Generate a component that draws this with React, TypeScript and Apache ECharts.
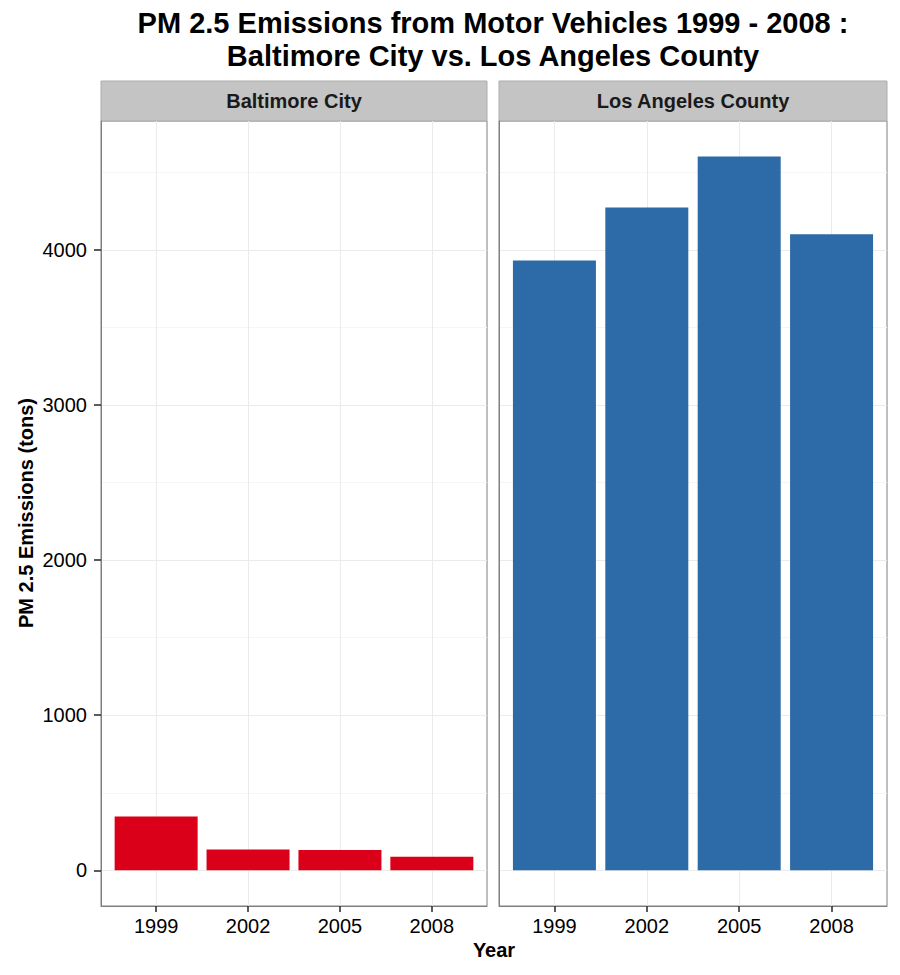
import React, { useEffect, useRef } from 'react';
import * as echarts from 'echarts';

const years = ['1999', '2002', '2005', '2008'];
const baltimore = [346.82, 134.31, 130.43, 88.28];
const losAngeles = [3931.12, 4274.03, 4601.41, 4101.32];
const panels = ['Baltimore City', 'Los Angeles County'];
const yTicks = [0, 1000, 2000, 3000, 4000];
const yMinor = [500, 1500, 2500, 3500, 4500];
const titleLines = ['PM 2.5 Emissions from Motor Vehicles 1999 - 2008 :', 'Baltimore City vs. Los Angeles County'];
const xTitle = 'Year';
const yTitle = 'PM 2.5 Emissions (tons)';

const FONT = '"Liberation Sans", Arial, Helvetica, sans-serif';
const Y_MIN = -230;
const Y_MAX = 4831;
const X_MIN = -0.6;
const X_MAX = 3.6;
const xPos = [0, 1, 2, 3];

const panelBoxes = [
  { left: 101, width: 386 },
  { left: 499, width: 388 },
];
const TOP = 121;
const HEIGHT = 785;
const BORDER = '#7f7f7f';
const TICK = '#333333';

export default function App() {
  const ref = useRef<HTMLDivElement>(null);
  useEffect(() => {
    if (!ref.current) return;
    const chart = echarts.init(ref.current, null, { renderer: 'svg' });

    const grids = panelBoxes.map((p) => ({
      left: p.left,
      top: TOP,
      width: p.width,
      height: HEIGHT,
      show: true,
      borderColor: BORDER,
      borderWidth: 1,
      backgroundColor: 'transparent',
    }));

    const xAxes = panelBoxes.map((_, i) => ({
      type: 'value',
      gridIndex: i,
      position: 'bottom',
      min: X_MIN,
      max: X_MAX,
      axisLine: { show: true, onZero: false, lineStyle: { color: BORDER, width: 1 } },
      axisTick: {
        show: true,
        customValues: xPos,
        length: 6,
        lineStyle: { color: TICK, width: 1.6 },
      },
      axisLabel: {
        show: true,
        customValues: xPos,
        formatter: (v: number) => years[Math.round(v)] ?? '',
        fontFamily: FONT,
        fontSize: 20,
        color: '#000',
        margin: 10,
      },
      splitLine: { show: true, lineStyle: { color: '#ebebeb', width: 1 } },
    }));

    const yMajor = panelBoxes.map((_, i) => ({
      type: 'value',
      gridIndex: i,
      position: 'left',
      min: Y_MIN,
      max: Y_MAX,
      axisLine: { show: true, onZero: false, lineStyle: { color: BORDER, width: 1 } },
      axisTick: {
        show: i === 0,
        customValues: yTicks,
        length: 7,
        lineStyle: { color: TICK, width: 1.6 },
      },
      axisLabel: {
        show: i === 0,
        customValues: yTicks,
        formatter: (v: number) => String(v),
        fontFamily: FONT,
        fontSize: 20,
        color: '#000',
        margin: 14,
      },
      splitLine: { show: true, lineStyle: { color: '#ebebeb', width: 1 } },
    }));

    const yMinorAxes = panelBoxes.map((_, i) => ({
      type: 'value',
      gridIndex: i,
      position: 'right',
      min: Y_MIN,
      max: Y_MAX,
      axisLine: { show: false, onZero: false },
      axisTick: { show: false, customValues: yMinor },
      axisLabel: { show: false, customValues: yMinor },
      splitLine: { show: true, lineStyle: { color: '#f5f5f5', width: 1 } },
    }));

    const graphics: any[] = [];
    titleLines.forEach((t, i) => {
      graphics.push({
        type: 'text',
        x: 493,
        y: 23 + i * 33,
        style: {
          text: t,
          fontFamily: FONT,
          fontSize: 29,
          fontWeight: 'bold',
          fill: '#000',
          textAlign: 'center',
          textVerticalAlign: 'middle',
        },
      });
    });
    panelBoxes.forEach((p, i) => {
      graphics.push({
        type: 'rect',
        shape: { x: p.left, y: 81, width: p.width, height: 40 },
        style: { fill: '#c4c4c4', stroke: '#adadad', lineWidth: 1 },
      });
      graphics.push({
        type: 'text',
        x: p.left + p.width / 2,
        y: 101,
        style: {
          text: panels[i],
          fontFamily: FONT,
          fontSize: 20,
          fontWeight: 'bold',
          fill: '#1a1a1a',
          textAlign: 'center',
          textVerticalAlign: 'middle',
        },
      });
    });
    graphics.push({
      type: 'text',
      x: 494,
      y: 950,
      style: {
        text: xTitle,
        fontFamily: FONT,
        fontSize: 20,
        fontWeight: 'bold',
        fill: '#000',
        textAlign: 'center',
        textVerticalAlign: 'middle',
      },
    });
    graphics.push({
      type: 'text',
      x: 26,
      y: 513,
      rotation: Math.PI / 2,
      style: {
        text: yTitle,
        fontFamily: FONT,
        fontSize: 20,
        fontWeight: 'bold',
        fill: '#000',
        textAlign: 'center',
        textVerticalAlign: 'middle',
      },
    });

    chart.setOption({
      animation: false,
      backgroundColor: '#ffffff',
      grid: grids,
      xAxis: xAxes,
      yAxis: [...yMajor, ...yMinorAxes],
      series: [
        {
          type: 'bar',
          name: panels[0],
          xAxisIndex: 0,
          yAxisIndex: 0,
          barWidth: 83,
          itemStyle: { color: '#db0019' },
          data: baltimore.map((v, i) => [xPos[i], v]),
        },
        {
          type: 'bar',
          name: panels[1],
          xAxisIndex: 1,
          yAxisIndex: 1,
          barWidth: 83,
          itemStyle: { color: '#2c6aa8' },
          data: losAngeles.map((v, i) => [xPos[i], v]),
        },
      ],
      graphic: graphics,
    });

    return () => chart.dispose();
  }, []);

  return (
    <div
      ref={ref}
      style={{ position: 'absolute', left: 0, top: 0, width: 900, height: 975 }}
    />
  );
}
